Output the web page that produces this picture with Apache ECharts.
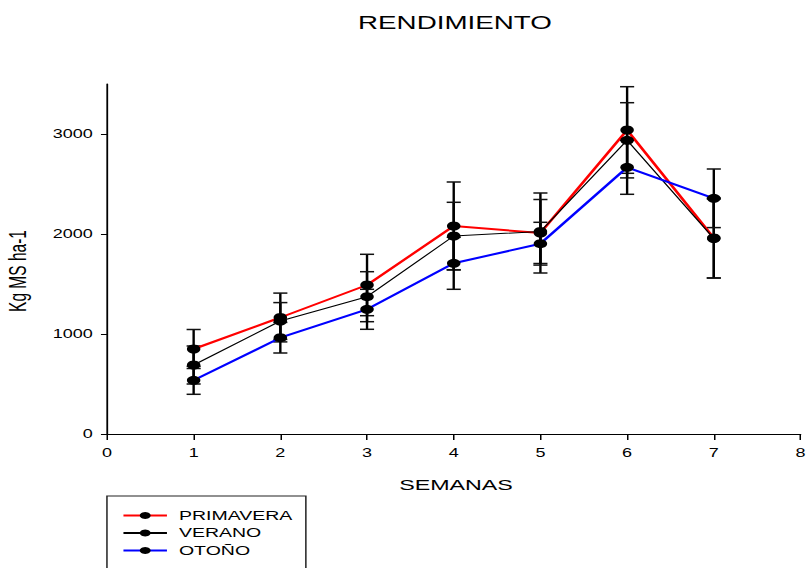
<!DOCTYPE html>
<html>
<head>
<meta charset="utf-8">
<script src="https://cdn.jsdelivr.net/npm/echarts@6/dist/echarts.min.js"></script>
<style>
  html, body { margin: 0; padding: 0; background: #fff; overflow: hidden; }
  #wrap { width: 810px; height: 568px; overflow: hidden; }
  #chart { width: 540px; height: 590px; transform: scaleX(1.5); transform-origin: 0 0; }
</style>
</head>
<body>
<div id="wrap"><div id="chart"></div></div>
<script>
// ---- data ----
const weeks = [1, 2, 3, 4, 5, 6, 7];
const primavera    = [850, 1165, 1490, 2080, 2010, 3040, 1960];
const primaveraErr = [195, 244, 307, 440, 400, 433, 400];
const verano       = [690, 1130, 1373, 1980, 2025, 2937, 1955];
const veranoErr    = [190, 184, 250, 337, 320, 376, 395];
const otono        = [537, 963, 1247, 1707, 1903, 2667, 2357];
const otonoErr     = [140, 153, 200, 260, 214, 270, 293];
const seriesNames  = ['PRIMAVERA', 'VERANO', 'OTOÑO'];
const yTicks = [0, 1000, 2000, 3000];

// ---- layout (unscaled; the chart is stretched 1.5x horizontally) ----
const W = 540;
const extraH = 22; // chart is taller than the visible window so the legend box runs off the bottom
const gridL = 71.3, gridR = 3.3, gridT = 84, gridB = 134 + extraH;
const fontFam = '"Liberation Sans", Arial, sans-serif';

const chart = echarts.init(document.getElementById('chart'), null, { renderer: 'svg' });

function pairs(vals) { return weeks.map((w, i) => [w, vals[i]]); }
function errData(vals, errs) { return weeks.map((w, i) => [w, vals[i] - errs[i], vals[i] + errs[i]]); }

function errSeries(vals, errs) {
  return {
    type: 'custom',
    silent: true,
    z: 1,
    data: errData(vals, errs),
    encode: { x: 0, y: [1, 2] },
    renderItem: function (params, api) {
      const x = api.value(0);
      const top = api.coord([x, api.value(2)]);
      const bot = api.coord([x, api.value(1)]);
      const hw = 4.7;
      return {
        type: 'group',
        children: [
          { type: 'line', shape: { x1: top[0], y1: top[1], x2: bot[0], y2: bot[1] }, style: { stroke: '#000', lineWidth: 1.6 } },
          { type: 'line', shape: { x1: top[0] - hw, y1: top[1], x2: top[0] + hw, y2: top[1] }, style: { stroke: '#111', lineWidth: 1.5 } },
          { type: 'line', shape: { x1: bot[0] - hw, y1: bot[1], x2: bot[0] + hw, y2: bot[1] }, style: { stroke: '#111', lineWidth: 1.5 } }
        ]
      };
    }
  };
}

function lineSeries(name, vals, color, width) {
  return {
    name: name,
    type: 'line',
    z: 3,
    data: pairs(vals),
    symbol: 'circle',
    symbolSize: 9,
    showSymbol: true,
    lineStyle: { color: color, width: width },
    itemStyle: { color: '#000', borderWidth: 0 },
    emphasis: { disabled: true }
  };
}

const option = {
  animation: false,
  backgroundColor: '#fff',
  grid: { left: gridL, right: gridR, top: gridT, bottom: gridB, containLabel: false },
  xAxis: {
    type: 'value', min: 0, max: 8, interval: 1,
    axisLine: { show: true, onZero: false, lineStyle: { color: '#000', width: 1.2 } },
    axisTick: { show: true, inside: false, length: 6, lineStyle: { color: '#000', width: 1 } },
    axisLabel: { color: '#000', fontSize: 12, fontFamily: fontFam, margin: 13, formatter: v => String(v) },
    splitLine: { show: false }
  },
  yAxis: {
    type: 'value', min: 0, max: 3500,
    axisLine: { show: true, lineStyle: { color: '#000', width: 1.2 } },
    axisTick: { show: true, inside: false, length: 4, customValues: yTicks, lineStyle: { color: '#000', width: 1 } },
    axisLabel: { color: '#000', fontSize: 12, fontFamily: fontFam, margin: 9.5, customValues: yTicks, formatter: v => String(v) },
    splitLine: { show: false }
  },
  legend: {
    data: seriesNames,
    orient: 'vertical',
    left: gridL,
    top: 496,
    borderColor: '#222',
    borderWidth: 1,
    padding: [13, 9, 22, 10],
    itemWidth: 29,
    itemHeight: 9,
    itemGap: 4.5,
    textStyle: { color: '#000', fontSize: 13, fontFamily: fontFam, padding: [0, 0, 0, 3] }
  },
  graphic: [
    { type: 'text', silent: true, style: { text: 'RENDIMIENTO', x: 303.3, y: 22.7, align: 'center', verticalAlign: 'middle', fontSize: 18.5, fontFamily: fontFam, fill: '#000' } },
    { type: 'text', silent: true, style: { text: 'SEMANAS', x: gridL + (W - gridL - gridR) / 2, y: 485, align: 'center', verticalAlign: 'middle', fontSize: 15.5, fontFamily: fontFam, fill: '#000' } },
    { type: 'text', silent: true, x: 11.7, y: 271, rotation: Math.PI / 2, style: { text: 'Kg MS ha-1', x: 0, y: 0, align: 'center', verticalAlign: 'middle', fontSize: 15.5, fontFamily: fontFam, fill: '#000' } }
  ],
  series: [
    errSeries(primavera, primaveraErr),
    errSeries(verano, veranoErr),
    errSeries(otono, otonoErr),
    lineSeries('PRIMAVERA', primavera, '#ff0000', 2),
    lineSeries('VERANO', verano, '#000000', 1),
    lineSeries('OTOÑO', otono, '#0000ff', 2)
  ]
};

chart.setOption(option);
</script>
</body>
</html>
